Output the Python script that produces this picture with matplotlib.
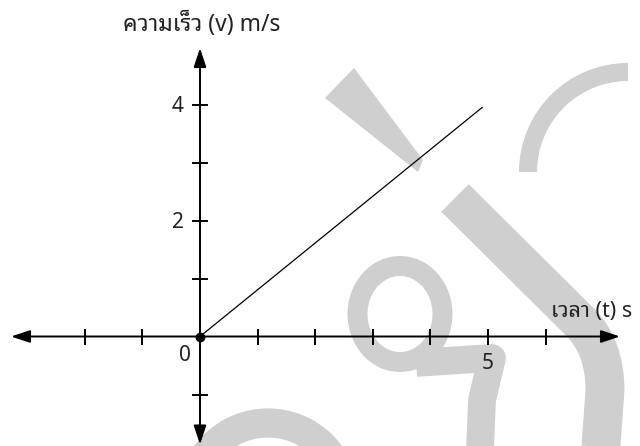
import matplotlib
matplotlib.use("Agg")
import matplotlib.pyplot as plt
from matplotlib.patches import Polygon, Ellipse, Arc, PathPatch
from matplotlib.path import Path

# data
t_vals = [0, 4.9]
v_vals = [0, 3.95]
x_ticks = [-2, -1, 1, 2, 3, 4, 5, 6]
x_tick_labels = ["", "", "", "", "", "", "5", ""]
y_ticks = [-1, 1, 2, 3, 4]
y_tick_labels = ["", "", "2", "", "4"]
x_title = "เวลา (t) s"
y_title = "ความเร็ว (v) m/s"

fam = ["Noto Sans Thai Looped", "DejaVu Sans"]
txt_col = "#222222"
grey = "#cfcfcf"

fig = plt.figure(figsize=(6.4, 4.46), dpi=100)

# background watermark, drawn in pixel coords
bg = fig.add_axes([0, 0, 1, 1], zorder=0)
bg.set_xlim(0, 640)
bg.set_ylim(446, 0)
bg.axis("off")
bg.add_patch(Polygon([(325, 98), (354, 68), (423, 160), (418, 172)], color=grey, lw=0))
bg.add_patch(Ellipse((400, 314), 85, 96, fill=False, ec=grey, lw=14.4))
bg.plot([430, 492, 482, 480], [362, 358, 400, 450], color=grey, lw=20, solid_joinstyle="round")
j_path = Path([(455, 198), (580, 322), (605, 347), (605, 390), (600, 460)],
              [Path.MOVETO, Path.LINETO, Path.CURVE3, Path.CURVE3, Path.LINETO])
bg.add_patch(PathPatch(j_path, fill=False, ec=grey, lw=28, capstyle="butt"))
bg.add_patch(Arc((628, 172), 200, 200, theta1=180, theta2=270, ec=grey, lw=13))
bg.add_patch(Arc((268, 500), 154, 154, theta1=180, theta2=360, ec=grey, lw=21))

# main chart
ax = fig.add_axes([0, 0, 1, 1], zorder=1)
ax.patch.set_alpha(0)
x_px, y_px = 57.6, 58.0
ax.set_xlim(-200 / x_px, 440 / x_px)
ax.set_ylim(-109.5 / y_px, 336.5 / y_px)

for s in ax.spines.values():
    s.set_visible(False)
ax.spines["left"].set_position(("data", 0))
ax.spines["bottom"].set_position(("data", 0))

ax.set_xticks(x_ticks, x_tick_labels)
ax.set_yticks(y_ticks, y_tick_labels)
ax.tick_params(direction="inout", length=11.5, width=1.4, color="black",
               labelsize=15, labelcolor=txt_col)
ax.tick_params(axis="x", pad=6)
ax.tick_params(axis="y", pad=6)
for lab in ax.get_xticklabels() + ax.get_yticklabels():
    lab.set_family(fam)
    lab.set_fontweight("light")

# axis arrows
arrow = dict(arrowstyle="<|-|>,head_length=1.15,head_width=0.38", mutation_scale=10,
             lw=1.4, color="black", shrinkA=0, shrinkB=0)
ax.annotate("", xy=(-189 / x_px, 0), xytext=(420 / x_px, 0), arrowprops=arrow,
            annotation_clip=False)
ax.annotate("", xy=(0, -108 / y_px), xytext=(0, 288.5 / y_px), arrowprops=arrow,
            annotation_clip=False)

ax.plot(t_vals, v_vals, color="black", lw=0.9)
ax.plot([0], [0], "o", color="black", ms=6)

ax.annotate("0", xy=(0, 0), xytext=(-11, -14), textcoords="offset points",
            ha="center", va="center", fontsize=15, fontweight="light",
            color=txt_col, family=fam)
ax.text(2 / x_px, 312.5 / y_px, y_title, ha="center", va="center", fontsize=16.5,
        fontweight="light", color=txt_col, family=fam)
ax.text(592 / x_px - 200 / x_px, 25.5 / y_px, x_title, ha="center", va="center",
        fontsize=15.5, fontweight="light", color=txt_col, family=fam)

fig.savefig("out.png", dpi=100)
